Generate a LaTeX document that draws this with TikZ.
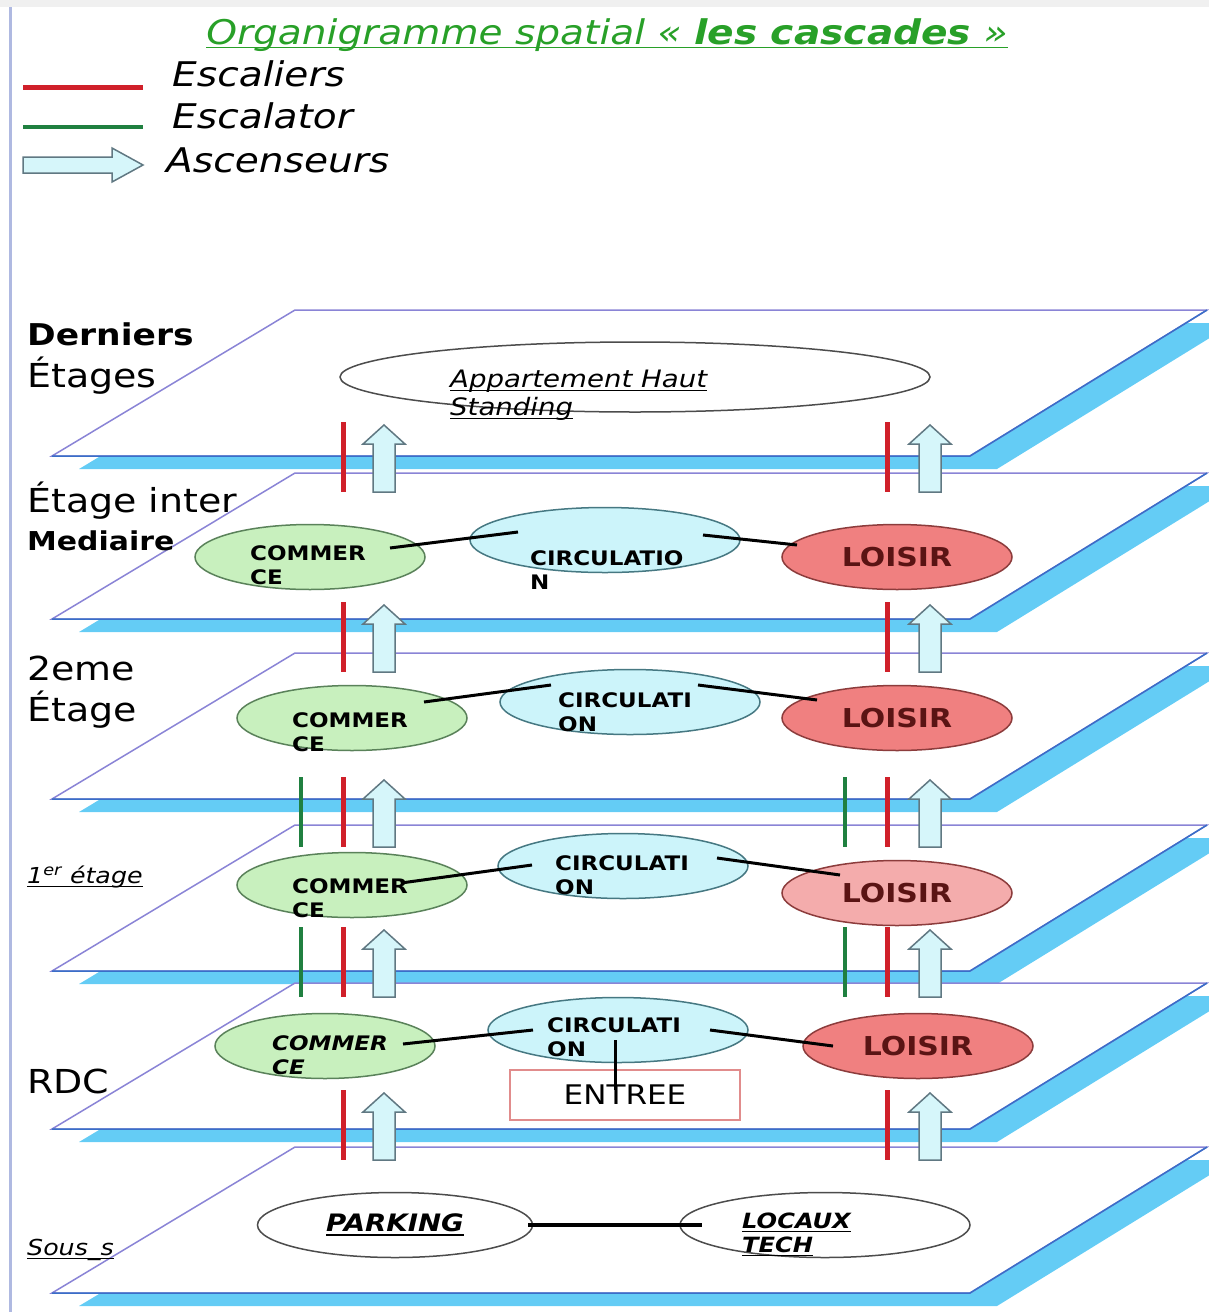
\documentclass[tikz,border=0pt]{standalone}
\usepackage{fontspec}
\setmainfont{DejaVu Sans}[FakeStretch=1.15]
\usetikzlibrary{shapes.geometric,calc}

\definecolor{slabline}{RGB}{138,132,214}
\definecolor{slabedge}{RGB}{58,110,200}
\definecolor{slabband}{RGB}{100,204,245}
\definecolor{stairred}{RGB}{208,32,42}
\definecolor{escgreen}{RGB}{32,128,64}
\definecolor{liftfill}{RGB}{214,246,250}
\definecolor{liftline}{RGB}{96,120,130}
\definecolor{comfill}{RGB}{200,240,190}
\definecolor{comline}{RGB}{90,130,90}
\definecolor{circfill}{RGB}{204,244,250}
\definecolor{circline}{RGB}{70,120,130}
\definecolor{loifill}{RGB}{240,128,128}
\definecolor{loilight}{RGB}{244,172,172}
\definecolor{loiline}{RGB}{140,60,60}
\definecolor{loitext}{RGB}{90,20,20}
\definecolor{entreeline}{RGB}{225,140,140}
\definecolor{titlegreen}{RGB}{40,160,40}
\definecolor{framecol}{RGB}{175,185,225}

\newcommand{\fsz}[2]{\fontsize{#1}{#2}\selectfont}
% underline with a thicker rule
\newsavebox{\ulbox}
\newcommand{\uln}[1]{\sbox{\ulbox}{#1}\rlap{\rule[-4pt]{\wd\ulbox}{1.5pt}}\usebox{\ulbox}}

% one floor slab: blue thickness, then the white top face; #1 = y of the back edge
\newcommand{\slab}[1]{%
  \fill[slabband] (322,#1+13) -- (1234,#1+13) -- (997,#1+159) -- (79,#1+159) -- cycle;
  \filldraw[fill=white,draw=slabline,line width=1.5] (295,#1) -- (1207,#1) -- (970,#1+146) -- (52,#1+146) -- cycle;
  \draw[slabedge,line width=1.5] (1207,#1) -- (970,#1+146) -- (52,#1+146);
}

\begin{document}
\begin{tikzpicture}[
	x=1pt,y=-1pt,
	zone/.style={ellipse,line width=1.5,minimum width=230,minimum height=65,inner sep=0},
	com/.style={zone,fill=comfill,draw=comline},
	circ/.style={zone,fill=circfill,draw=circline,minimum width=260},
	loisir/.style={zone,fill=loifill,draw=loiline,text=loitext,font=\fsz{26}{30}\bfseries},
	blank/.style={zone,fill=white,draw=black!70},
	ztext/.style={anchor=base west,align=left,inner sep=0,font=\fsz{20}{24}\bfseries},
	floor/.style={anchor=base west,inner sep=0,font=\fsz{33}{38}},
	legend/.style={anchor=base west,inner sep=0,font=\fsz{34}{40}\itshape},
	link/.style={line width=3},
	stairs/.style={stairred,line width=5},
	escal/.style={escgreen,line width=4},
	liftpath/.style={fill=liftfill,draw=liftline,line width=1.5},
	lift/.pic={\draw[liftpath] (0,0) -- (21,19) -- (11,19) -- (11,67) -- (-11,67) -- (-11,19) -- (-21,19) -- cycle;},
]
\useasboundingbox (0,0) rectangle (1209,1312);

% frame of the page
\fill[gray!12] (0,0) rectangle (1209,7);
\draw[framecol,line width=3] (10,7) -- (10,1312);

% title and legend
\node[anchor=base,inner sep=0,font=\fsz{34}{40}\itshape,text=titlegreen] (title) at (607,44)
	{\uln{Organigramme spatial « \textbf{les cascades} »}};
\draw[stairs] (23,87) -- ++(120,0);
\node[legend] (kstair) at (172,86) {Escaliers};
\draw[escal] (23,127) -- ++(120,0);
\node[legend] (kescal) at (172,128) {Escalator};
\draw[liftpath] (23,157) -- (112,157) -- (112,148) -- (143,165) -- (112,182) -- (112,173) -- (23,173) -- cycle;
\node[legend] (klift) at (166,172) {Ascenseurs};

% the six slabs, top first
\foreach \t in {310,473,653,825,983,1147} {\slab{\t}}

% floor names
\node[floor,font=\fsz{30}{36}\bfseries] (n1a) at (27,345) {Derniers};
\node[floor] (n1b) at (27,387) {Étages};
\node[floor] (n2a) at (27,512) {Étage inter};
\node[floor,font=\fsz{26}{30}\bfseries] (n2b) at (27,550) {Mediaire};
\node[floor] (n3a) at (27,680) {2eme};
\node[floor] (n3b) at (27,721) {Étage};
\node[floor,font=\fsz{22}{26}\itshape] (n4) at (27,883) {\uln{1\textsuperscript{er} étage}};
\node[floor] (n5) at (27,1093) {RDC};
\node[floor,font=\fsz{22}{26}\itshape] (n6) at (27,1255) {\uln{Sous\_s}};

% Derniers etages
\node[blank,minimum width=590,minimum height=70] (apt) at (635,377) {};
\node[ztext,font=\fsz{24}{28}\itshape] (aptt) at ($(apt)+(-185,38)$) {\uln{Appartement Haut}\\\uln{Standing}};

% Etage intermediaire
\node[com] (com2) at (310,557) {};
\node[ztext] (com2t) at ($(com2)+(-60,27)$) {COMMER\\CE};
\node[circ,minimum width=270] (circ2) at (605,540) {};
\node[ztext] (circ2t) at ($(circ2)+(-75,49)$) {CIRCULATIO\\N};
\node[loisir] (loi2) at (897,557) {LOISIR};
\draw[link] ($(com2)+(80,-9)$) -- ($(circ2)+(-87,-8)$);
\draw[link] ($(circ2)+(98,-5)$) -- ($(loi2)+(-100,-12)$);

% 2eme etage
\node[com] (com3) at (352,718) {};
\node[ztext] (com3t) at ($(com3)+(-60,33)$) {COMMER\\CE};
\node[circ] (circ3) at (630,702) {};
\node[ztext] (circ3t) at ($(circ3)+(-72,29)$) {CIRCULATI\\ON};
\node[loisir] (loi3) at (897,718) {LOISIR};
\draw[link] ($(com3)+(72,-16)$) -- ($(circ3)+(-79,-17)$);
\draw[link] ($(circ3)+(68,-17)$) -- ($(loi3)+(-80,-18)$);

% 1er etage
\node[com] (com4) at (352,885) {};
\node[ztext] (com4t) at ($(com4)+(-60,32)$) {COMMER\\CE};
\node[circ,minimum width=250] (circ4) at (623,866) {};
\node[ztext] (circ4t) at ($(circ4)+(-68,28)$) {CIRCULATI\\ON};
\node[loisir,fill=loilight] (loi4) at (897,893) {LOISIR};
\draw[link] ($(com4)+(49,-2)$) -- ($(circ4)+(-91,-1)$);
\draw[link] ($(circ4)+(94,-8)$) -- ($(loi4)+(-57,-18)$);

% RDC
\node[com,minimum width=220] (com5) at (325,1046) {};
\node[ztext,font=\fsz{20}{24}\bfseries\itshape] (com5t) at ($(com5)+(-53,28)$) {COMMER\\CE};
\node[circ] (circ5) at (618,1030) {};
\node[ztext] (circ5t) at ($(circ5)+(-71,26)$) {CIRCULATI\\ON};
\node[loisir] (loi5) at (918,1046) {LOISIR};
\node[draw=entreeline,line width=1.5,fill=white,minimum width=230,minimum height=50,font=\fsz{27}{30}] (entree) at (625,1095) {ENTREE};
\draw[link] ($(com5)+(78,-2)$) -- ($(circ5)+(-85,0)$);
\draw[link] ($(circ5)+(92,0)$) -- ($(loi5)+(-85,0)$);
\draw[link] ($(circ5)+(-3,10)$) -- ($(entree)+(-10,-5)$);

% Sous-sol
\node[blank,minimum width=275,font=\fsz{24}{28}\bfseries\itshape] (park) at (395,1225) {\uln{PARKING}};
\node[blank,minimum width=290] (tech) at (825,1225) {};
\node[ztext,font=\fsz{21}{24}\bfseries\itshape] (techt) at ($(tech)+(-83,27)$) {\uln{LOCAUX}\\\uln{TECH}};
\draw[link,line width=4] ($(park)+(133,0)$) -- ($(tech)+(-123,0)$);

% stairs, escalators and lifts between the floors
\foreach \y/\esc in {422/0,602/0,777/1,927/1,1090/0} {
	\draw[stairs] (343,\y) -- ++(0,70);
	\draw[stairs] (887,\y) -- ++(0,70);
	\pic at (384,\y+3) {lift};
	\pic at (930,\y+3) {lift};
	\ifnum\esc=1
		\draw[escal] (301,\y) -- ++(0,70);
		\draw[escal] (845,\y) -- ++(0,70);
	\fi
}

\end{tikzpicture}
\end{document}
